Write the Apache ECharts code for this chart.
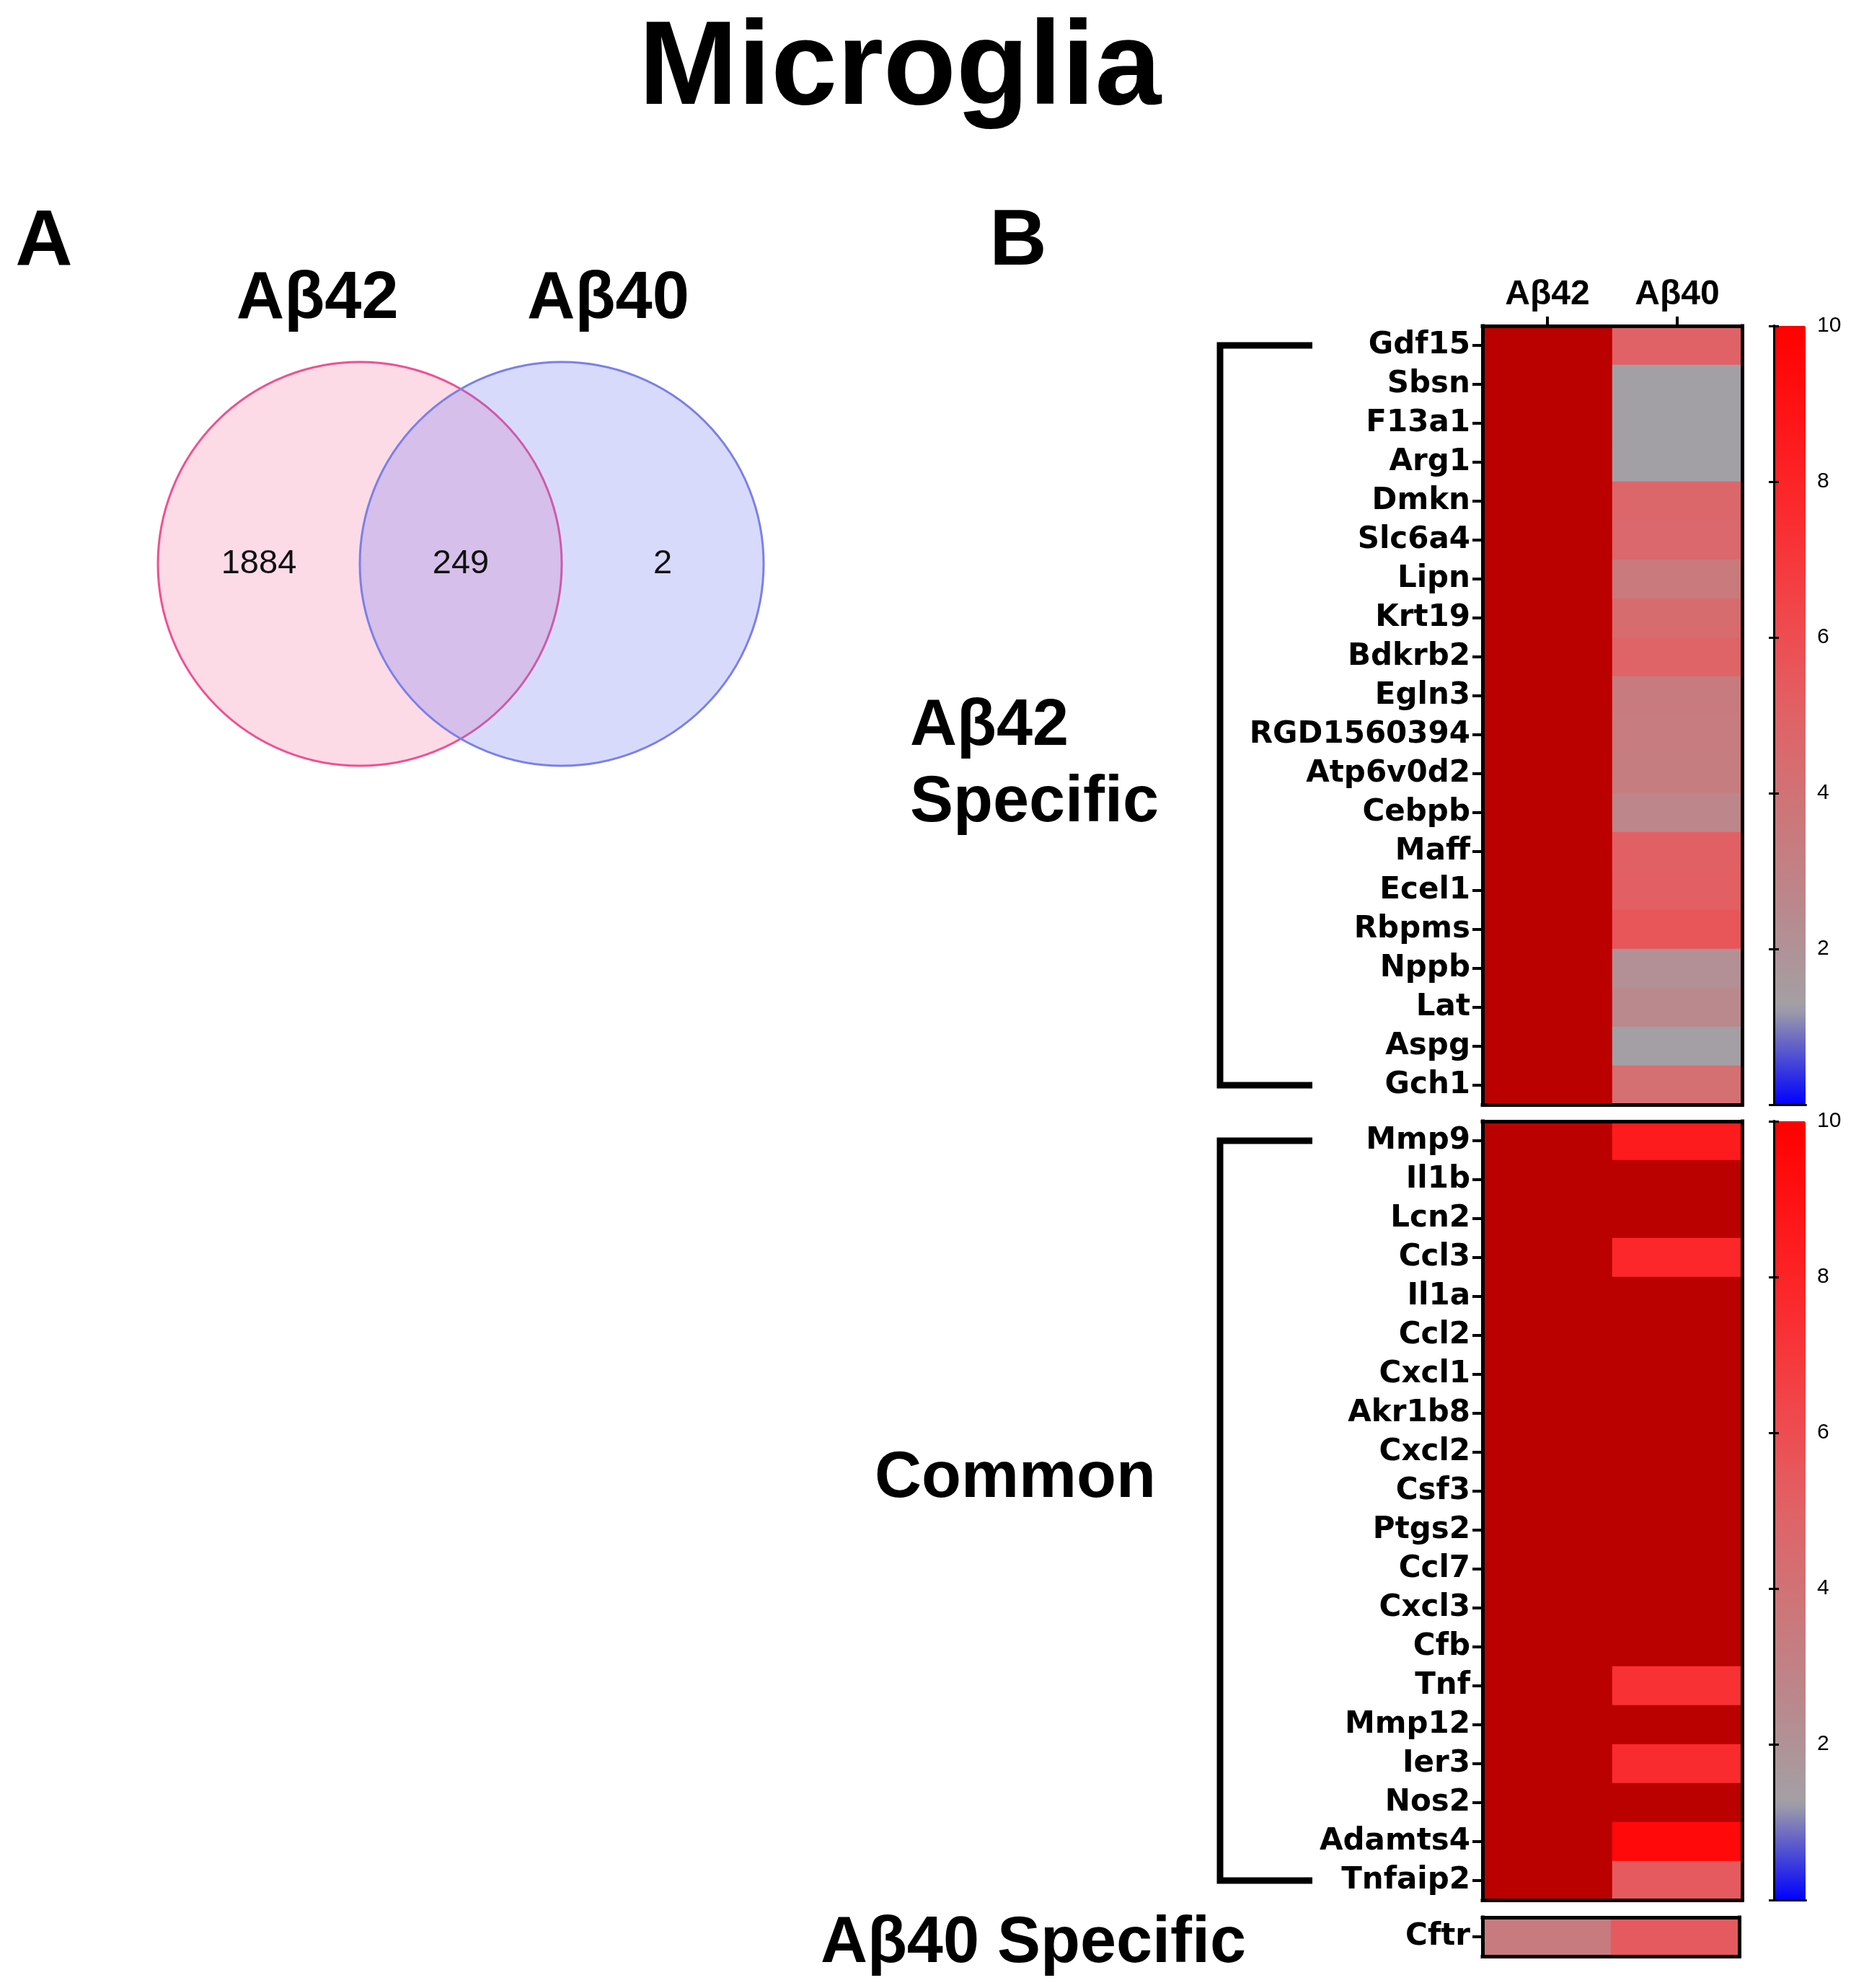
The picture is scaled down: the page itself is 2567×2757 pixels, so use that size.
<!DOCTYPE html>
<html>
<head>
<meta charset="utf-8">
<script src="https://cdn.jsdelivr.net/npm/echarts@6/dist/echarts.min.js"></script>
<style>html,body{margin:0;padding:0;background:#fff}#c{width:2567px;height:2757px}</style>
</head>
<body>
<div id="c"></div>
<script>
// ---------------- data ----------------
const conditions = ['Aβ42', 'Aβ40'];
const specificGenes = ['Gdf15','Sbsn','F13a1','Arg1','Dmkn','Slc6a4','Lipn','Krt19','Bdkrb2','Egln3','RGD1560394','Atp6v0d2','Cebpb','Maff','Ecel1','Rbpms','Nppb','Lat','Aspg','Gch1'];
const specificAb42 = [12,12,12,12,12,12,12,12,12,12,12,12,12,12,12,12,12,12,12,12];
const specificAb40 = [5.0,1.25,1.25,1.25,4.7,4.6,3.5,4.4,4.9,3.45,3.35,3.3,2.7,5.1,5.15,5.6,2.1,2.5,1.3,4.2];
const commonGenes = ['Mmp9','Il1b','Lcn2','Ccl3','Il1a','Ccl2','Cxcl1','Akr1b8','Cxcl2','Csf3','Ptgs2','Ccl7','Cxcl3','Cfb','Tnf','Mmp12','Ier3','Nos2','Adamts4','Tnfaip2'];
const commonAb42 = [12,12,12,12,12,12,12,12,12,12,12,12,12,12,12,12,12,12,12,12];
const commonAb40 = [8.5,12,12,7.8,12,12,12,12,12,12,12,12,12,12,7.3,12,7.6,12,9.5,5.4];
const ab40Genes = ['Cftr'];
const ab40Ab42 = [3.4];
const ab40Ab40 = [5.4];
const colorTicks = [0, 2, 4, 6, 8, 10];
const vennSets = ['Aβ42', 'Aβ40'];
const vennCounts = [1884, 249, 2]; // Aβ42 only, shared, Aβ40 only

// ---------------- styling ----------------
const FONT = "'Liberation Sans', Arial, sans-serif";
const GENE_FONT = "'DejaVu Sans', 'Liberation Sans', sans-serif";
const cmap = ['#0000ff','#a3a0a5','#b9898d','#cd7679','#e06266','#f0484c','#fa2d30','#ff1618','#ff0000'];
const overColor = '#bb0000';

function heatData(genes, a, b) {
  const d = [];
  genes.forEach((g, i) => { d.push([0, i, a[i]]); d.push([1, i, b[i]]); });
  return d;
}

const HM_LEFT = 2056, HM_W = 360;
const grids = [
  {left: HM_LEFT, top: 452, width: HM_W, height: 1080},
  {left: HM_LEFT, top: 1555, width: HM_W, height: 1080},
  {left: HM_LEFT, top: 2659, width: 356, height: 54},
  {left: 2460, top: 452, width: 44, height: 1080},
  {left: 2460, top: 1555, width: 44, height: 1080},
  {left: 79, top: 362, width: 1120, height: 840}
];

const borderLine = {show: true, lineStyle: {color: '#000', width: 5, cap: 'square'}};
function borderCat(pos, gridIndex, data, extra) {
  return Object.assign({type: 'category', gridIndex, position: pos, data, zlevel: 1, z: 10,
    axisLine: borderLine, axisTick: {show: false}, axisLabel: {show: false}, splitLine: {show: false}}, extra || {});
}
function labelY(gridIndex, genes) {
  return borderCat('left', gridIndex, genes, {
    inverse: true,
    axisTick: {show: true, alignWithLabel: true, interval: 0, length: 14, lineStyle: {color: '#000', width: 4}},
    axisLabel: {show: true, interval: 0, margin: 17, color: '#000', fontSize: 42, fontWeight: 'bold', fontFamily: GENE_FONT}
  });
}
function cbarAxis(kind, pos, gridIndex, showLabels) {
  return {type: 'value', gridIndex, position: pos, min: 0, max: 10, interval: 2, zlevel: 1, z: 10,
    axisLine: {show: true, lineStyle: {color: '#000', width: 3, cap: 'square'}},
    axisTick: {show: kind === 'y', inside: true, length: 7, lineStyle: {color: '#000', width: 3}},
    axisLabel: {show: showLabels, margin: 16, color: '#000', fontSize: 30, fontFamily: FONT,
      formatter: v => (v === 0 ? '' : String(v))},
    splitLine: {show: false}};
}

const xAxes = [
  borderCat('top', 0, conditions, {
    axisTick: {show: true, alignWithLabel: true, length: 13, lineStyle: {color: '#000', width: 4}},
    axisLabel: {show: true, margin: 19, color: '#000', fontSize: 48, fontWeight: 'bold', fontFamily: FONT}
  }),
  borderCat('bottom', 0, conditions),
  borderCat('top', 1, conditions),
  borderCat('bottom', 1, conditions),
  borderCat('top', 2, conditions),
  borderCat('bottom', 2, conditions),
  cbarAxis('x', 'top', 3, false),
  cbarAxis('x', 'bottom', 3, false),
  cbarAxis('x', 'top', 4, false),
  cbarAxis('x', 'bottom', 4, false),
  {type: 'value', gridIndex: 5, min: -2, max: 2, show: false}
];
const yAxes = [
  labelY(0, specificGenes),
  borderCat('right', 0, specificGenes, {inverse: true}),
  labelY(1, commonGenes),
  borderCat('right', 1, commonGenes, {inverse: true}),
  labelY(2, ab40Genes),
  borderCat('right', 2, ab40Genes, {inverse: true}),
  cbarAxis('y', 'left', 3, false),
  cbarAxis('y', 'right', 3, true),
  cbarAxis('y', 'left', 4, false),
  cbarAxis('y', 'right', 4, true),
  {type: 'value', gridIndex: 5, min: -1.5, max: 1.5, show: false}
];

function bracket(xi, yi, n) {
  return {
    type: 'custom', xAxisIndex: xi, yAxisIndex: yi, silent: true, clip: false, z: 5,
    data: [[0, 0]],
    renderItem(params, api) {
      const top = api.coord([0, 0]);
      const bot = api.coord([0, n - 1]);
      const left = params.coordSys.x;
      const xv = left - 364, xa = left - 236;
      return {type: 'polyline',
        shape: {points: [[xa, top[1]], [xv, top[1]], [xv, bot[1]], [xa, bot[1]]]},
        style: {fill: null, stroke: '#000', lineWidth: 9, lineJoin: 'miter', lineCap: 'butt'}};
    }
  };
}

const vennFill = ['rgba(245,110,160,0.25)', 'rgba(110,120,245,0.27)'];
const vennStroke = ['#f0508f', '#7b80e8'];

function vm(seriesIndex, top, height) {
  return {type: 'continuous', min: 0, max: 10, range: [0, 9.999], seriesIndex,
    orient: 'vertical', left: 2460, top, itemWidth: 44, itemHeight: height,
    calculable: false, hoverLink: false, padding: 0, text: null, showLabel: false,
    inRange: {color: cmap}, outOfRange: {color: overColor}};
}

function title(text, left, top, size, align, weight) {
  return {text, left, top, padding: 0, textAlign: align,
    textStyle: {fontSize: size, fontWeight: weight || 'bold', color: '#000', fontFamily: FONT}};
}

const option = {
  backgroundColor: '#fff',
  animation: false,
  title: [
    title('Microglia', 1248, 16, 165, 'center'),
    title('A', 61, 282, 110, 'center'),
    title('B', 1412, 282, 110, 'center'),
    title('Aβ42', 1262, 963, 90, 'left'),
    title('Specific', 1262, 1069, 90, 'left'),
    title('Common', 1603, 2006, 90, 'right'),
    title('Aβ40 Specific', 1433, 2651, 90, 'center')
  ],
  grid: grids,
  xAxis: xAxes,
  yAxis: yAxes,
  visualMap: [vm([0, 2], 452, 1080), vm([1], 1555, 1080)],
  series: [
    {type: 'heatmap', xAxisIndex: 0, yAxisIndex: 0, data: heatData(specificGenes, specificAb42, specificAb40)},
    {type: 'heatmap', xAxisIndex: 2, yAxisIndex: 2, data: heatData(commonGenes, commonAb42, commonAb40)},
    {type: 'heatmap', xAxisIndex: 4, yAxisIndex: 4, data: heatData(ab40Genes, ab40Ab42, ab40Ab40)},
    bracket(0, 0, specificGenes.length),
    bracket(2, 2, commonGenes.length),
    {
      type: 'custom', xAxisIndex: 10, yAxisIndex: 10, silent: true, clip: false,
      data: [[-0.5, 0, 1, 0], [0.5, 0, 1, 1]],
      renderItem(params, api) {
        const c = api.coord([api.value(0), api.value(1)]);
        const r = api.size([api.value(2), 0])[0];
        const k = api.value(3);
        return {type: 'circle', shape: {cx: c[0], cy: c[1], r},
          style: {fill: vennFill[k], stroke: vennStroke[k], lineWidth: 3}};
      }
    },
    {
      type: 'scatter', xAxisIndex: 10, yAxisIndex: 10, silent: true, symbolSize: 0, z: 6,
      itemStyle: {opacity: 1},
      data: vennCounts.map((v, i) => [i - 1, 0, v]),
      label: {show: true, position: 'inside', formatter: p => String(p.value[2]),
        fontSize: 47, color: '#111', fontFamily: FONT}
    },
    {
      type: 'scatter', xAxisIndex: 10, yAxisIndex: 10, silent: true, symbolSize: 0, z: 6,
      itemStyle: {opacity: 1},
      data: vennSets.map((s, i) => [i === 0 ? -0.71 : 0.73, 1.31, s]),
      label: {show: true, position: 'inside', formatter: p => p.value[2],
        fontSize: 92, fontWeight: 'bold', color: '#000', fontFamily: FONT}
    }
  ]
};

const chart = echarts.init(document.getElementById('c'), null, {renderer: 'canvas'});
chart.setOption(option);
</script>
</body>
</html>
